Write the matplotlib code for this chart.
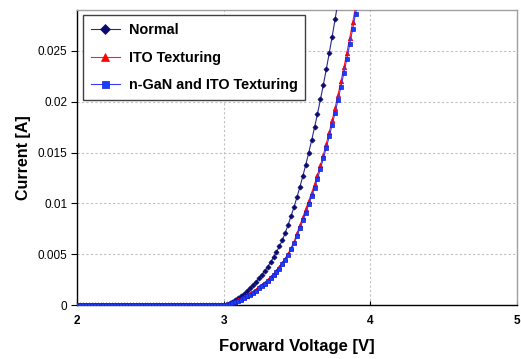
import matplotlib
matplotlib.use("Agg")
import matplotlib.pyplot as plt

# Voltage sweep [V]
voltage = [
    2.00, 2.02, 2.04, 2.06, 2.08, 2.10, 2.12, 2.14, 2.16, 2.18,
    2.20, 2.22, 2.24, 2.26, 2.28, 2.30, 2.32, 2.34, 2.36, 2.38,
    2.40, 2.42, 2.44, 2.46, 2.48, 2.50, 2.52, 2.54, 2.56, 2.58,
    2.60, 2.62, 2.64, 2.66, 2.68, 2.70, 2.72, 2.74, 2.76, 2.78,
    2.80, 2.82, 2.84, 2.86, 2.88, 2.90, 2.92, 2.94, 2.96, 2.98,
    3.00, 3.02, 3.04, 3.06, 3.08, 3.10, 3.12, 3.14, 3.16, 3.18,
    3.20, 3.22, 3.24, 3.26, 3.28, 3.30, 3.32, 3.34, 3.36, 3.38,
    3.40, 3.42, 3.44, 3.46, 3.48, 3.50, 3.52, 3.54, 3.56, 3.58,
    3.60, 3.62, 3.64, 3.66, 3.68, 3.70, 3.72, 3.74, 3.76, 3.78,
    3.80, 3.82, 3.84, 3.86, 3.88, 3.90, 3.92,
]

below_turn_on = [0.0] * 50  # 2.00 .. 2.98 V

normal_current = below_turn_on + [
    0.00005, 0.00012, 0.00022, 0.00035, 0.00050, 0.00068, 0.00089,
    0.00113, 0.00139, 0.00167, 0.00197, 0.00229, 0.00263, 0.00299,
    0.00337, 0.00378, 0.00422, 0.00470, 0.00522, 0.00578, 0.00638,
    0.00711, 0.00791, 0.00876, 0.00966, 0.01061, 0.01162, 0.01268,
    0.01380, 0.01497, 0.01619, 0.01747, 0.01881, 0.02021, 0.02166,
    0.02318, 0.02476, 0.02640, 0.02809, 0.02986,
]

ito_current = below_turn_on + [
    0.00003, 0.00008, 0.00015, 0.00024, 0.00035, 0.00047, 0.00061,
    0.00076, 0.00093, 0.00112, 0.00132, 0.00153, 0.00175, 0.00198,
    0.00222, 0.00248, 0.00276, 0.00306, 0.00339, 0.00375, 0.00414,
    0.00458, 0.00507, 0.00562, 0.00622, 0.00705, 0.00785, 0.00865,
    0.00945, 0.01025, 0.01105, 0.01188, 0.01278, 0.01373, 0.01477,
    0.01586, 0.01699, 0.01817, 0.01940, 0.02067, 0.02200, 0.02337,
    0.02479, 0.02626, 0.02779, 0.02936, 0.03098,
]

ngan_current = below_turn_on + [
    0.00002, 0.00006, 0.00012, 0.00020, 0.00030, 0.00042, 0.00055,
    0.00070, 0.00086, 0.00104, 0.00123, 0.00143, 0.00164, 0.00187,
    0.00211, 0.00236, 0.00263, 0.00292, 0.00324, 0.00358, 0.00400,
    0.00444, 0.00493, 0.00547, 0.00606, 0.00679, 0.00755, 0.00832,
    0.00910, 0.00990, 0.01070, 0.01155, 0.01243, 0.01340, 0.01442,
    0.01548, 0.01658, 0.01773, 0.01893, 0.02018, 0.02147, 0.02281,
    0.02420, 0.02564, 0.02713, 0.02866, 0.03024,
]

series_labels = ["Normal", "ITO Texturing", "n-GaN and ITO Texturing"]
x_ticks = [2, 3, 4, 5]
y_ticks = [0, 0.005, 0.01, 0.015, 0.02, 0.025]
y_tick_labels = ["0", "0.005", "0.01", "0.015", "0.02", "0.025"]

plt.rcParams['font.family'] = ['Liberation Sans', 'DejaVu Sans']

fig = plt.figure(figsize=(5.21, 3.59), dpi=100)
ax = fig.add_axes([0.148, 0.150, 0.844, 0.822])

ax.plot(voltage[:len(normal_current)], normal_current, color='#2a2a8c', lw=0.8,
        marker='D', ms=2.6, mew=0.5, mfc='#0a0a70', mec='#0a0a70',
        label=series_labels[0], zorder=3)
ax.plot(voltage[:len(ito_current)], ito_current, color='#ff2020', lw=0.8,
        marker='^', ms=3.3, mew=0.5, mfc='#ff0000', mec='#ff0000',
        label=series_labels[1], zorder=4)
ax.plot(voltage[:len(ngan_current)], ngan_current, color='#3a3aff', lw=0.8,
        marker='s', ms=2.8, mew=0.5, mfc='#1a3cff', mec='#1020d0',
        label=series_labels[2], zorder=5)

ax.set_xlim(2, 5)
ax.set_ylim(0, 0.029)
ax.set_xticks(x_ticks)
ax.set_xticklabels([str(t) for t in x_ticks], fontweight='bold', fontsize=8.5)
ax.set_yticks(y_ticks)
ax.set_yticklabels(y_tick_labels, fontsize=8.5)

ax.tick_params(axis='x', direction='in', length=3, pad=7, colors='black')
ax.tick_params(axis='y', direction='out', length=4, pad=3)

ax.grid(True, color='#c0c0c0', linestyle=(0, (2, 2)), linewidth=0.8)
ax.set_axisbelow(True)

for s in ['top', 'right']:
    ax.spines[s].set_color('#a0a0a0')
    ax.spines[s].set_linewidth(1.0)
for s in ['left', 'bottom']:
    ax.spines[s].set_color('black')
    ax.spines[s].set_linewidth(1.0)

ax.set_xlabel('Forward Voltage [V]', fontsize=12, fontweight='bold', labelpad=9)
ax.set_ylabel('Current [A]', fontsize=11.5, fontweight='bold', labelpad=5)

leg = ax.legend(loc='upper left', bbox_to_anchor=(0.0136, 0.983), borderaxespad=0,
                prop={'weight': 'bold', 'size': 10.4}, frameon=True, fancybox=False,
                edgecolor='#404040', framealpha=1, handlelength=2.0, labelspacing=0.95,
                markerscale=1.8, borderpad=0.55, handletextpad=0.6)
leg.get_frame().set_linewidth(1.0)

fig.savefig('out.png', dpi=100)
